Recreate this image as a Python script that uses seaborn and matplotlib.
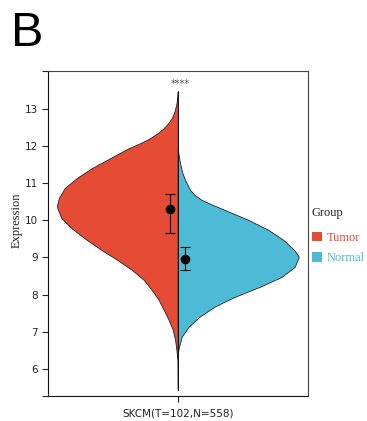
import numpy as np
import pandas as pd
import matplotlib
matplotlib.use("Agg")
import matplotlib.pyplot as plt
import seaborn as sns
from matplotlib.patches import Patch

# ---------------- data ----------------
groups = ["Tumor", "Normal"]
palette = ["#E64B35", "#4DBBD5"]

# relative density profiles (half-violin widths, max = 1)
tumor_y = [13.47, 13.25, 13.11, 12.93, 12.75, 12.62, 12.48, 12.35, 12.21, 12.07,
           11.94, 11.67, 11.40, 11.13, 10.87,
           10.60, 10.37, 10.06, 9.79, 9.50, 9.20, 8.93, 8.67, 8.40, 8.13,
           7.86, 7.59, 7.32, 7.05, 6.78, 6.51, 6.24, 5.43]
tumor_density = [0.0, 0.006, 0.013, 0.027, 0.05, 0.078, 0.116, 0.165, 0.229, 0.315,
                 0.406, 0.56, 0.713, 0.837, 0.934,
                 0.983, 1.0, 0.962, 0.879, 0.763, 0.63, 0.497, 0.381, 0.282, 0.216,
                 0.158, 0.116, 0.075, 0.041, 0.022, 0.011, 0.002, 0.0]
normal_y = [11.95, 11.75, 11.54, 11.30, 11.09, 10.82, 10.68, 10.55, 10.42, 10.28,
            10.01, 9.74, 9.47, 9.20,
            9.02, 8.75, 8.48, 8.21, 7.94, 7.68, 7.41, 7.14, 6.87, 6.60, 6.43]
normal_density = [0.0, 0.008, 0.019, 0.036, 0.06, 0.102, 0.14, 0.198, 0.285, 0.388,
                  0.584, 0.75, 0.874, 0.963,
                  1.0, 0.967, 0.86, 0.678, 0.471, 0.306, 0.182, 0.091, 0.033, 0.011, 0.0]

medians = [10.31, 8.97]
q_low = [9.66, 8.65]
q_high = [10.71, 9.28]

x_label = "SKCM(T=102,N=558)"
y_ticks = [6, 7, 8, 9, 10, 11, 12, 13]
signif = "****"
y_title = "Expression"
legend_title = "Group"

# ---------------- style ----------------
sns.set_theme(style="ticks")
plt.rcParams["font.family"] = ["DejaVu Sans"]

W, H = 367, 421
fig = plt.figure(figsize=(W / 100, H / 100), dpi=100)
fig.patch.set_facecolor("white")
ax = fig.add_axes([47.5 / W, 1 - 396 / H, 260.5 / W, 325 / H])
ax.set_facecolor("white")

ylim = (5.27, 14.02)
xlim = (-1.0764, 1.0764)

# half violins
ty = np.array(tumor_y)
td = np.array(tumor_density)
ny = np.array(normal_y)
nd = np.array(normal_density)
ax.fill_betweenx(ty, -td, 0, facecolor=palette[0], edgecolor="#222222", linewidth=0.6, zorder=2)
ax.fill_betweenx(ny, 0, nd, facecolor=palette[1], edgecolor="#222222", linewidth=0.6, zorder=2)
ax.plot([0, 0], [min(tumor_y), max(tumor_y)], color="#111111", lw=0.7, zorder=3)

# median + interquartile points
dodge = 0.06
pts = pd.DataFrame({"group": groups, "median": medians, "low": q_low, "high": q_high})
pts["x"] = [-dodge, dodge]
ax.errorbar(pts["x"], pts["median"],
            yerr=[pts["median"] - pts["low"], pts["high"] - pts["median"]],
            fmt="none", ecolor="black", elinewidth=0.8, capsize=3.3, capthick=0.8, zorder=4)
sns.scatterplot(data=pts, x="x", y="median", color="black", s=48, edgecolor="black",
                linewidth=0, ax=ax, zorder=5, legend=False)

ax.text(0.02, 13.68, signif, ha="center", va="center", fontsize=7, color="#555555")

ax.set_xlim(*xlim)
ax.set_ylim(*ylim)
ax.set_xticks([0])
ax.set_xticklabels([x_label], fontsize=7.5, color="#222222")
ax.set_yticks(y_ticks)
ax.set_yticklabels([str(t) for t in y_ticks], fontsize=7.5, color="#222222")
ax.set_yticks(list(ylim), minor=True)
ax.tick_params(axis="y", which="both", length=4.3, width=0.8, color="#222222", pad=2.5)
ax.tick_params(axis="x", length=4, width=0.8, color="#222222", pad=5)
ax.set_xlabel("")
ax.set_ylabel(y_title, fontfamily="Liberation Serif", fontsize=9, color="#222222")
ax.yaxis.set_label_coords(-0.094, 0.54)

for side, sp in ax.spines.items():
    sp.set_visible(True)
    sp.set_linewidth(0.8)
    sp.set_color("#111111" if side in ("left", "bottom") else "#444444")

# legend
handles = [Patch(facecolor=c, edgecolor="none") for c in palette]
leg = ax.legend(handles, groups, title=legend_title, loc="upper left",
                bbox_to_anchor=(312 / W, 1 - 207 / H), bbox_transform=fig.transFigure,
                frameon=False, borderaxespad=0, borderpad=0,
                prop={"family": "Liberation Serif", "size": 9},
                title_fontproperties={"family": "Liberation Serif", "size": 9},
                handlelength=0.8, handleheight=0.8, handletextpad=0.4, labelspacing=0.68)
leg._legend_box.align = "left"
leg._legend_box.sep = 9
for t, c in zip(leg.get_texts(), palette):
    t.set_color(c)

fig.text(11 / W, 1 - 46 / H, "B", fontsize=35, fontfamily="Liberation Sans",
         ha="left", va="baseline", color="black")

fig.savefig("out.png", dpi=100, facecolor="white")
